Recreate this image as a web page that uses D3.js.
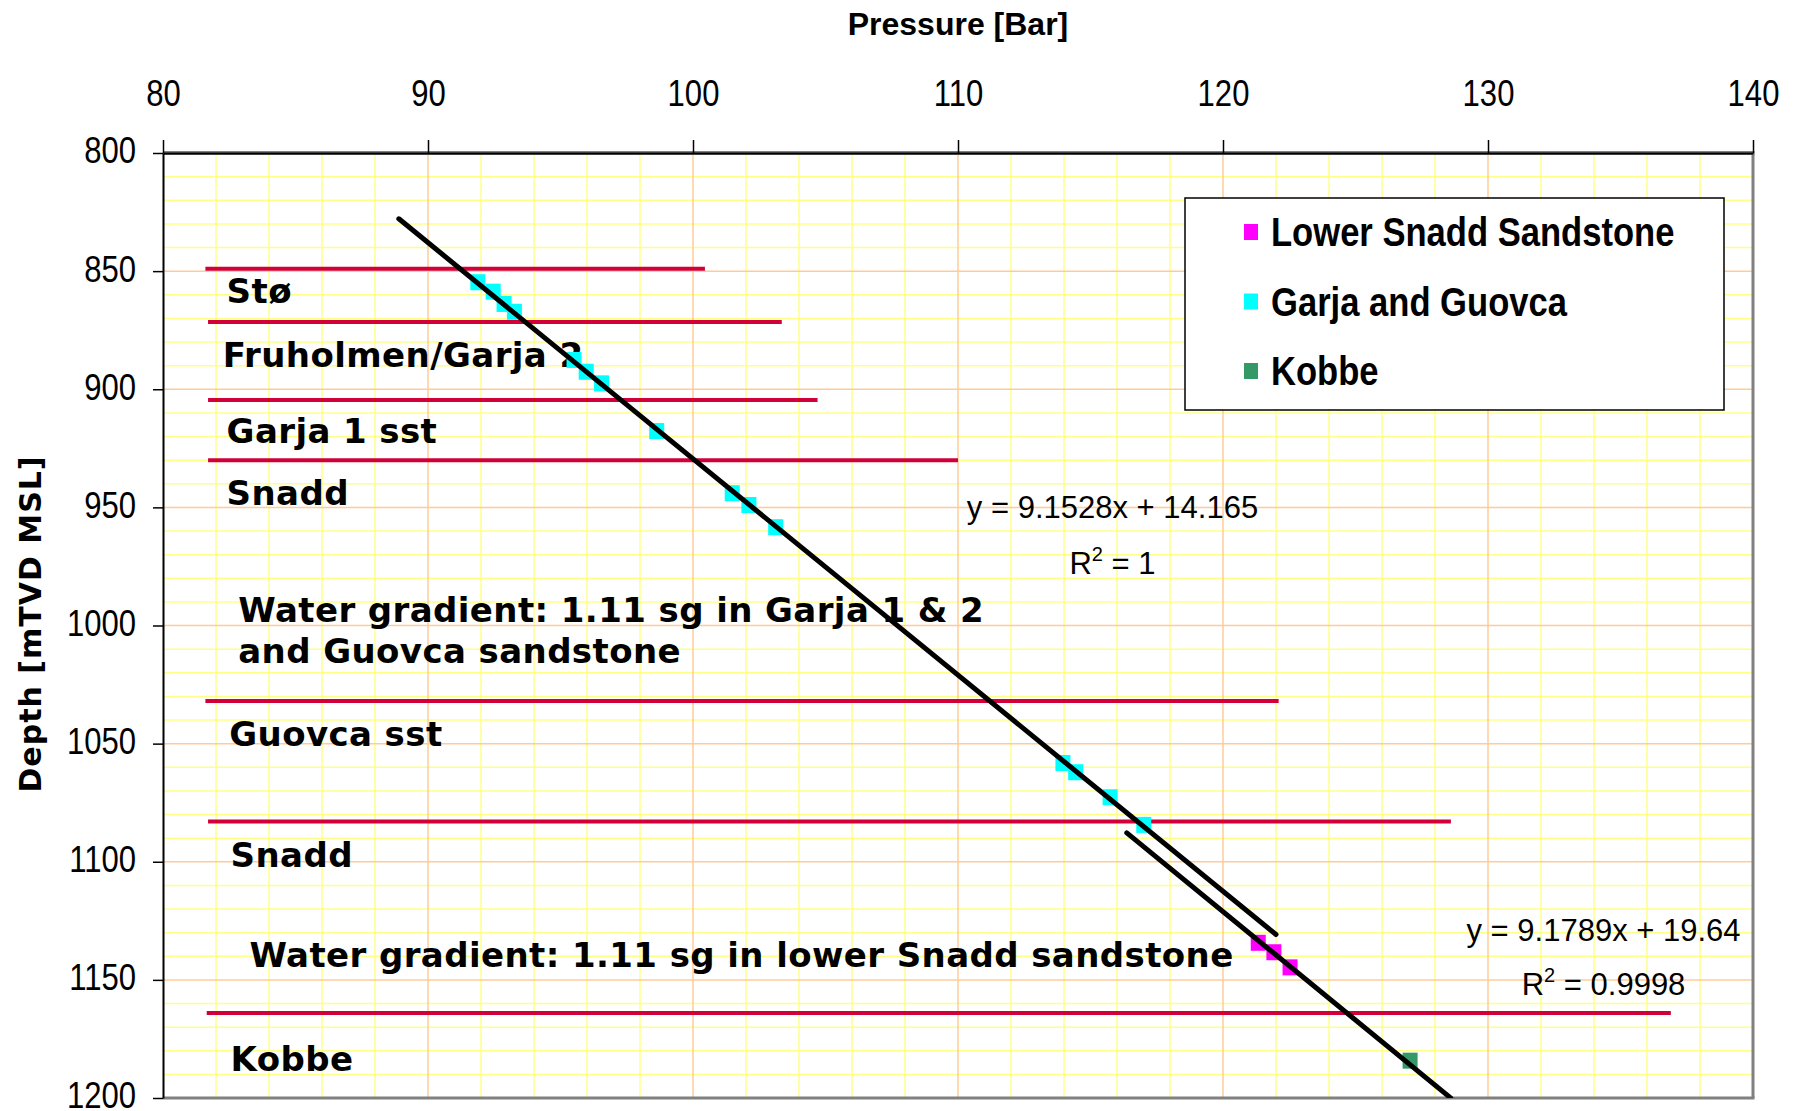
<!DOCTYPE html>
<html>
<head>
<meta charset="utf-8">
<script src="https://cdn.jsdelivr.net/npm/d3@7"></script>
<style>
  html, body { margin: 0; padding: 0; background: #ffffff; }
  svg { display: block; }
</style>
</head>
<body>
<svg id="chart" width="1802" height="1111"></svg>
<script>
// ---- Pressure (bar) vs depth (m TVD MSL) ----
const pressureTicks = [80, 90, 100, 110, 120, 130, 140];
const depthTicks = [800, 850, 900, 950, 1000, 1050, 1100, 1150, 1200];

// Garja and Guovca measurements
const garjaPressure = [91.88, 92.46, 92.87, 93.26, 95.51, 95.97, 96.55, 98.63, 101.48, 102.11, 103.12, 113.96, 114.44, 115.74, 117.01];
const garjaDepth    = [854.7, 858.7, 863.9, 867.2, 887.6, 892.6, 897.5, 917.7, 944.0, 949.0, 958.4, 1058.2, 1062.1, 1072.7, 1084.4];

// Lower Snadd Sandstone measurements
const snaddPressure = [121.33, 121.92, 122.53];
const snaddDepth    = [1134.3, 1138.3, 1144.7];

// Kobbe measurement
const kobbePressure = [127.06];
const kobbeDepth    = [1184.2];

// Linear trends: depth = slope * pressure + intercept
const trendSlopes     = [9.1528, 9.1789];
const trendIntercepts = [14.165, 19.64];
const trendFrom       = [88.9, 116.37];
const trendTo         = [122.0, 128.6];
const trendEquations  = ["y = 9.1528x + 14.165", "y = 9.1789x + 19.64"];
const trendR2         = ["1", "0.9998"];
const eqPressure      = [115.83, 134.36];
const eqDepth         = [954.6, 1133.5];
const r2Depth         = [978.4, 1156.4];

// Formation tops
const topDepth = [849, 871.5, 904.5, 930, 1032, 1083, 1164];
const topFrom  = [81.6, 81.7, 81.7, 81.7, 81.6, 81.7, 81.65];
const topTo    = [100.45, 103.35, 104.7, 110.0, 122.1, 128.6, 136.9];

// Zone annotations
const zoneText = ["Stø", "Fruholmen/Garja 2", "Garja 1 sst", "Snadd",
                  "Water gradient: 1.11 sg in Garja 1 & 2", "and Guovca sandstone",
                  "Guovca sst", "Snadd", "Water gradient: 1.11 sg in lower Snadd sandstone", "Kobbe"];
const zonePressure = [82.40, 82.25, 82.40, 82.40, 82.84, 82.84, 82.50, 82.55, 83.26, 82.55];
const zoneDepth    = [863.6, 890.5, 922.9, 949.0, 998.4, 1015.7, 1050.9, 1102.1, 1144.4, 1188.6];

// Legend
const seriesNames  = ["Lower Snadd Sandstone", "Garja and Guovca", "Kobbe"];
const seriesColors = ["#ff00ff", "#00ffff", "#339966"];

const svg = d3.select("#chart");
const W = 1802, H = 1111;
const plot = { left: 163, right: 1753, top: 153, bottom: 1098 };

svg.append("rect").attr("width", W).attr("height", H).attr("fill", "#ffffff");

const x = d3.scaleLinear().domain([80, 140]).range([plot.left, plot.right]);
const y = d3.scaleLinear().domain([800, 1200]).range([plot.top, plot.bottom]);

const sans = "'Liberation Sans', Arial, sans-serif";
const wide = "'DejaVu Sans', Verdana, sans-serif";

// Condensed look: squeeze text horizontally around its anchor point
function condense(sel, k) {
  sel.each(function () {
    const t = d3.select(this);
    const tx = +t.attr("x") || 0, ty = +t.attr("y") || 0;
    t.attr("x", 0).attr("y", 0).attr("transform", `translate(${tx},${ty}) scale(${k},1)`);
  });
}

// Grid: minor every 2 bar / 10 m, major every 10 bar / 50 m
const grid = svg.append("g");
const minorX = d3.range(82, 140, 2).filter(v => v % 10 !== 0);
const minorY = d3.range(810, 1200, 10).filter(v => v % 50 !== 0);
grid.selectAll(".mx").data(minorX).join("line")
  .attr("x1", d => x(d)).attr("x2", d => x(d)).attr("y1", plot.top).attr("y2", plot.bottom)
  .attr("stroke", "#ffff88").attr("stroke-width", 1.5);
grid.selectAll(".my").data(minorY).join("line")
  .attr("x1", plot.left).attr("x2", plot.right).attr("y1", d => y(d)).attr("y2", d => y(d))
  .attr("stroke", "#ffff88").attr("stroke-width", 1.5);
grid.selectAll(".Mx").data(pressureTicks.slice(1, -1)).join("line")
  .attr("x1", d => x(d)).attr("x2", d => x(d)).attr("y1", plot.top).attr("y2", plot.bottom)
  .attr("stroke", "#ffcc99").attr("stroke-width", 1.5);
grid.selectAll(".My").data(depthTicks.slice(1, -1)).join("line")
  .attr("x1", plot.left).attr("x2", plot.right).attr("y1", d => y(d)).attr("y2", d => y(d))
  .attr("stroke", "#ffcc99").attr("stroke-width", 1.5);

// Plot frame (right and bottom in grey)
svg.append("line").attr("x1", plot.right).attr("x2", plot.right).attr("y1", plot.top).attr("y2", plot.bottom)
  .attr("stroke", "#808080").attr("stroke-width", 3);
svg.append("line").attr("x1", plot.left).attr("x2", plot.right + 1.5).attr("y1", plot.bottom).attr("y2", plot.bottom)
  .attr("stroke", "#808080").attr("stroke-width", 3);
svg.append("line").attr("x1", plot.left).attr("x2", plot.right + 1.5).attr("y1", plot.top).attr("y2", plot.top)
  .attr("stroke", "#808080").attr("stroke-width", 4);

// Axes
const xAxis = d3.axisTop(x).tickValues(pressureTicks).tickFormat(d3.format("d"))
  .tickSize(13).tickPadding(34).tickSizeOuter(0);
const gx = svg.append("g").attr("transform", `translate(0,${plot.top})`).call(xAxis);
gx.select(".domain").attr("stroke", "#000").attr("stroke-width", 2);
gx.selectAll(".tick line").attr("stroke", "#000").attr("stroke-width", 1.5);
gx.selectAll(".tick text").attr("font-family", sans).attr("font-size", 37).attr("fill", "#000")
  .call(condense, 0.84);

const yAxis = d3.axisLeft(y).tickValues(depthTicks).tickFormat(d3.format("d"))
  .tickSize(10).tickPadding(17).tickSizeOuter(0);
const gy = svg.append("g").attr("transform", `translate(${plot.left},0)`).call(yAxis);
gy.select(".domain").attr("stroke", "#000").attr("stroke-width", 2);
gy.selectAll(".tick line").attr("stroke", "#000").attr("stroke-width", 1.5);
gy.selectAll(".tick text").attr("font-family", sans).attr("font-size", 37).attr("fill", "#000")
  .attr("dy", "0.27em").call(condense, 0.84);

// Axis titles
svg.append("text").attr("x", (plot.left + plot.right) / 2).attr("y", 35)
  .attr("text-anchor", "middle").attr("font-family", sans).attr("font-weight", "bold")
  .attr("font-size", 32).text("Pressure [Bar]");
svg.append("text").attr("transform", `translate(41,${624}) rotate(-90)`)
  .attr("text-anchor", "middle").attr("font-family", wide).attr("font-weight", "bold")
  .attr("font-size", 30).attr("letter-spacing", 1).text("Depth [mTVD MSL]");

svg.append("clipPath").attr("id", "plotclip").append("rect")
  .attr("x", plot.left).attr("y", plot.top).attr("width", plot.right - plot.left).attr("height", plot.bottom - plot.top);

// Formation tops
svg.append("g").selectAll("line").data(topDepth).join("line")
  .attr("x1", (d, i) => x(topFrom[i])).attr("x2", (d, i) => x(topTo[i]))
  .attr("y1", d => y(d)).attr("y2", d => y(d))
  .attr("stroke", "#d20038").attr("stroke-width", 4);

// Zone annotations
svg.append("g").selectAll("text").data(zoneText).join("text")
  .attr("x", (d, i) => x(zonePressure[i])).attr("y", (d, i) => y(zoneDepth[i]))
  .attr("font-family", wide).attr("font-weight", "bold").attr("font-size", 34)
  .attr("letter-spacing", 0.4).attr("fill", "#000").text(d => d);

// Data points
const sq = { w: 15, h: 16 };
function points(px, dp, color) {
  svg.append("g").selectAll("rect").data(px).join("rect")
    .attr("x", (d) => x(d) - sq.w / 2).attr("y", (d, i) => y(dp[i]) - sq.h / 2)
    .attr("width", sq.w).attr("height", sq.h).attr("fill", color);
}
points(garjaPressure, garjaDepth, seriesColors[1]);
points(snaddPressure, snaddDepth, seriesColors[0]);
points(kobbePressure, kobbeDepth, seriesColors[2]);

// Trend lines
const trendG = svg.append("g").attr("clip-path", "url(#plotclip)");
trendSlopes.forEach((m, i) => {
  const p0 = trendFrom[i], p1 = trendTo[i];
  trendG.append("line")
    .attr("x1", x(p0)).attr("y1", y(m * p0 + trendIntercepts[i]))
    .attr("x2", x(p1)).attr("y2", y(m * p1 + trendIntercepts[i]))
    .attr("stroke", "#000").attr("stroke-width", 5).attr("stroke-linecap", "round");
});

// Trend equations
trendEquations.forEach((eq, i) => {
  svg.append("text").attr("x", x(eqPressure[i])).attr("y", y(eqDepth[i]))
    .attr("text-anchor", "middle").attr("font-family", sans).attr("font-size", 31).text(eq);
  const r = svg.append("text").attr("x", x(eqPressure[i])).attr("y", y(r2Depth[i]))
    .attr("text-anchor", "middle").attr("font-family", sans).attr("font-size", 31);
  r.append("tspan").text("R");
  r.append("tspan").attr("dy", -13).attr("font-size", 20).text("2");
  r.append("tspan").attr("dy", 13).text(" = " + trendR2[i]);
});

// Legend
const lg = svg.append("g").attr("transform", "translate(1185,198)");
lg.append("rect").attr("width", 539).attr("height", 212).attr("fill", "#fff")
  .attr("stroke", "#000").attr("stroke-width", 1.5);
seriesNames.forEach((name, i) => {
  const cy = 34 + i * 69.5;
  lg.append("rect").attr("x", 59).attr("y", cy - 8).attr("width", 14).attr("height", 16)
    .attr("fill", seriesColors[i]);
  lg.append("text").attr("x", 86).attr("y", cy + 14)
    .attr("font-family", sans).attr("font-weight", "bold").attr("font-size", 40).text(name)
    .call(condense, 0.865);
});
</script>
</body>
</html>
